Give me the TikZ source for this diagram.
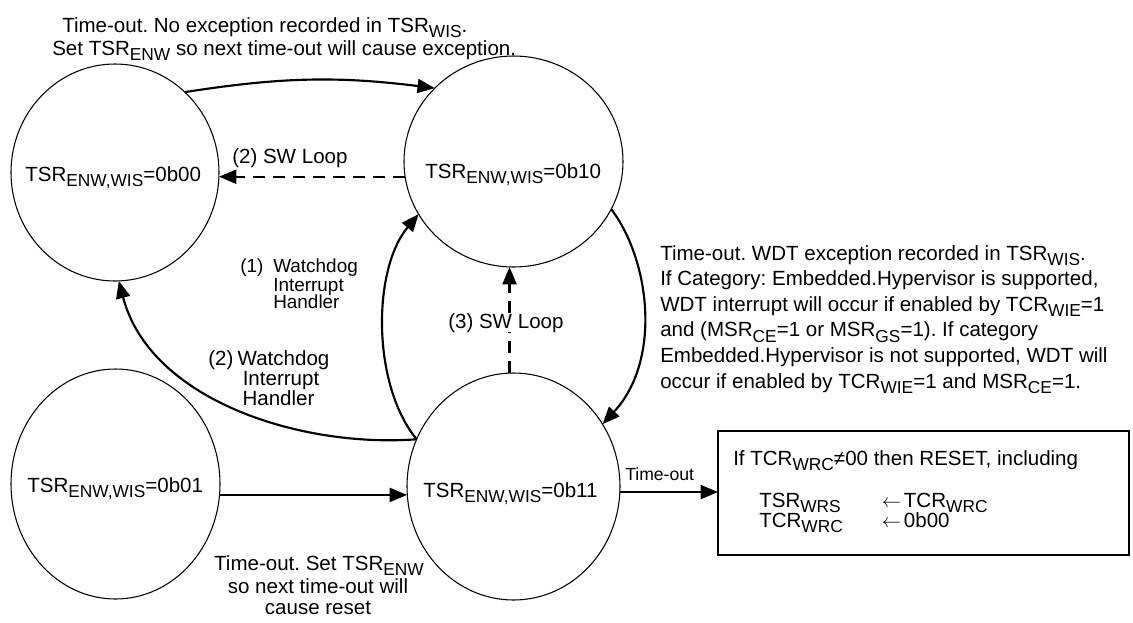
\documentclass[tikz,border=0pt]{standalone}
\usepackage{fontspec}
\setmainfont{Liberation Sans}
\usetikzlibrary{shapes.geometric,arrows.meta}
\frenchspacing
\newcommand{\sbs}[1]{\raisebox{-4pt}{\fontsize{13pt}{13pt}\selectfont #1}}
\begin{document}
\begin{tikzpicture}[x=0.75pt,y=-0.75pt,
  state/.style={ellipse, draw, line width=0.8pt, inner sep=0pt, outer sep=0pt},
  arr/.style={line width=1.6pt, -{Triangle[length=13pt,width=10.5pt]}},
  dsh/.style={arr, dash pattern=on 9pt off 6pt},
  txt/.style={font=\fontsize{15.4pt}{17pt}\selectfont, inner sep=0pt},
  stxt/.style={font=\fontsize{14.2pt}{16pt}\selectfont, inner sep=0pt},
  tiny/.style={font=\fontsize{13.2pt}{15pt}\selectfont, inner sep=0pt}]
\useasboundingbox (0,0) rectangle (1133,622);
% states
\node[state, minimum width=156pt, minimum height=162.75pt] (c00) at (115,172.5) {};
\node[state, minimum width=164.25pt, minimum height=158.25pt] (c10) at (513.5,161.5) {};
\node[state, minimum width=156.75pt, minimum height=172.5pt] (c01) at (115.5,484) {};
\node[state, minimum width=159.75pt, minimum height=170.25pt] (c11) at (513.5,486.5) {};
\node[draw, line width=1.3pt, minimum width=308.25pt, minimum height=93pt, inner sep=0pt, outer sep=0pt] (box) at (923.5,493) {};
% state labels
\node[txt, anchor=base west] (l00) at (25,181) {TSR\sbs{ENW,WIS}=0b00};
\node[txt, anchor=base west] (l10) at (425,178) {TSR\sbs{ENW,WIS}=0b10};
\node[txt, anchor=base west] (l01) at (27,492) {TSR\sbs{ENW,WIS}=0b01};
\node[txt, anchor=base west] (l11) at (423,497) {TSR\sbs{ENW,WIS}=0b11};
% connectors
\draw[arr] (c00.49) to[bend left=8] (c10.137);
\draw[dsh] (c10.188) -- (c10.188 -| c00.east);
\draw[arr] (c11.154) .. controls (372,385) and (372,270) .. (c10.209);
\draw[arr] (c11.154) .. controls (300,448) and (150,400) .. (c00.272);
\draw[arr] (c10.334) .. controls (650,260) and (662,360) .. (c11.35);
\draw[dsh] (c11.92) -- (c11.92 |- c10.south);
\draw[arr] (c01.354) -- (c01.354 -| c11.west);
\draw[arr] (c11.-3) -- (c11.-3 -| box.west);
% captions
\node[txt, anchor=base west] (cap1) at (62,32) {Time-out. No exception recorded in TSR\sbs{WIS}.};
\node[txt, anchor=base west] (cap2) at (52,55) {Set TSR\sbs{ENW} so next time-out will cause exception.};
\node[txt, anchor=base west] (sw2) at (232,163) {(2) SW Loop};
\node[txt, anchor=base west, fill=white] (sw3) at (448,328) {(3) SW Loop};
\node[stxt, anchor=base west] (n1) at (240,272) {(1)};
\node[stxt, anchor=base west] (w1a) at (273,272) {Watchdog};
\node[stxt, anchor=base west] (w1b) at (273,291) {Interrupt};
\node[stxt, anchor=base west] (w1c) at (273,308) {Handler};
\node[txt, anchor=base west] (n2) at (208,365) {(2)};
\node[txt, anchor=base] (w2a) at (283.5,365) {Watchdog};
\node[txt, anchor=base] (w2b) at (281,385) {Interrupt};
\node[txt, anchor=base] (w2c) at (278.5,405) {Handler};
\node[txt, anchor=base] (b1) at (319,570) {Time-out. Set TSR\sbs{ENW}};
\node[txt, anchor=base] (b2) at (318,593) {so next time-out will};
\node[txt, anchor=base] (b3) at (318,614) {cause reset};
\node[tiny, anchor=base west] (to) at (625,480) {Time-out};
% right text
\node[txt, anchor=base west] (r1) at (660,260) {Time-out. WDT exception recorded in TSR\sbs{WIS}.};
\node[txt, anchor=base west] (r2) at (660,285.6) {If Category: Embedded.Hypervisor is supported,};
\node[txt, anchor=base west] (r3) at (660,311.2) {WDT interrupt will occur if enabled by TCR\sbs{WIE}=1};
\node[txt, anchor=base west] (r4) at (660,336.8) {and (MSR\sbs{CE}=1 or MSR\sbs{GS}=1). If category};
\node[txt, anchor=base west] (r5) at (660,362.4) {Embedded.Hypervisor is not supported, WDT will};
\node[txt, anchor=base west] (r6) at (660,388) {occur if enabled by TCR\sbs{WIE}=1 and MSR\sbs{CE}=1.};
% box text
\node[txt, anchor=base west] (x1) at (733,465) {If TCR\sbs{WRC}≠00 then RESET, including};
\node[txt, anchor=base west] (x2) at (759,507) {\makebox[92pt][l]{TSR\sbs{WRS}}\makebox[16.5pt][l]{$\leftarrow$}TCR\sbs{WRC}};
\node[txt, anchor=base west] (x3) at (759,527) {\makebox[92pt][l]{TCR\sbs{WRC}}\makebox[16.5pt][l]{$\leftarrow$}0b00};
\end{tikzpicture}
\end{document}
